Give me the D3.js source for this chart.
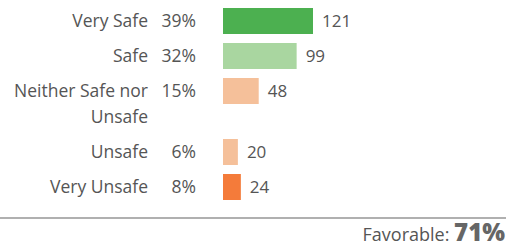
<!DOCTYPE html>
<html>
<head>
<meta charset="utf-8">
<script src="https://cdn.jsdelivr.net/npm/d3@7"></script>
<style>
  body { margin: 0; background: #fff; }
  text { font-family: "Open Sans", Lato, sans-serif; }
</style>
</head>
<body>
<div id="chart"></div>
<script>
const categories = ['Very Safe', 'Safe', 'Neither Safe nor|Unsafe', 'Unsafe', 'Very Unsafe'];
const percents = ['39%', '32%', '15%', '6%', '8%'];
const counts = [121, 99, 48, 20, 24];
const colors = ['#4cb050', '#a9d6a0', '#f5c09a', '#f5c09a', '#f47b3a'];
const favorable = '71%';

const width = 508;
const height = 252;

const svg = d3.select('#chart')
  .append('svg')
  .attr('width', width)
  .attr('height', height);

const rowH = 35;      // height of one label line
const lineH = 26;     // extra for each wrapped line
const barH = 26;
const marginTop = 4;

// row offsets depend on how many lines the label needs
const rows = categories.map((c, i) => ({
  lines: c.split('|'),
  pct: percents[i],
  value: counts[i],
  color: colors[i],
}));
let acc = marginTop;
rows.forEach((r) => {
  r.y = acc;
  acc += rowH + (r.lines.length - 1) * lineH;
});

const x = d3.scaleLinear()
  .domain([0, d3.max(counts)])
  .range([223, 313]);

const g = svg.append('g')
  .selectAll('g')
  .data(rows)
  .enter()
  .append('g')
    .attr('transform', (d) => `translate(0,${d.y})`);

g.append('rect')
  .attr('x', x(0))
  .attr('y', 4)
  .attr('width', (d) => x(d.value) - x(0))
  .attr('height', barH)
  .attr('fill', (d) => d.color);

g.append('text')
  .attr('x', (d) => x(d.value) + 9)
  .attr('y', 17)
  .attr('dy', '0.35em')
  .attr('fill', '#555')
  .style('font-size', '17px')
  .text((d) => d.value);

g.append('text')
  .attr('x', 196)
  .attr('y', 17)
  .attr('dy', '0.35em')
  .attr('text-anchor', 'end')
  .attr('fill', '#555')
  .style('font-size', '17.5px')
  .text((d) => d.pct);

g.selectAll('text.cat')
  .data((d) => d.lines)
  .enter()
  .append('text')
    .attr('class', 'cat')
    .attr('x', 148)
    .attr('y', (d, i) => 17 + i * lineH)
    .attr('dy', '0.35em')
    .attr('text-anchor', 'end')
    .attr('fill', '#555')
    .style('font-size', '17.5px')
    .text((d) => d);

svg.append('line')
  .attr('x1', 0)
  .attr('x2', 506)
  .attr('y1', 218)
  .attr('y2', 218)
  .attr('stroke', '#b0b0b0')
  .attr('stroke-width', 2);

const fav = svg.append('text')
  .attr('x', 505)
  .attr('y', 241)
  .attr('text-anchor', 'end')
  .attr('fill', '#555');
fav.append('tspan')
  .style('font-size', '18px')
  .text('Favorable: ');
fav.append('tspan')
  .style('font-size', '24px')
  .style('font-weight', 800)
  .attr('fill', '#666')
  .text(favorable);
</script>
</body>
</html>
